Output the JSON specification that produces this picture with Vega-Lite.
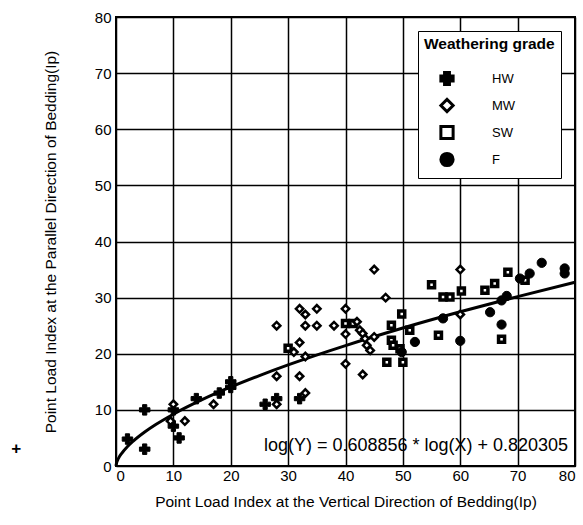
{
  "$schema": "https://vega.github.io/schema/vega-lite/v6.json",
  "width": 459,
  "height": 449,
  "autosize": "none",
  "padding": {"left": 116, "top": 17, "right": 8, "bottom": 59},
  "background": "white",
  "config": {
    "font": "Liberation Sans",
    "view": {"stroke": "black", "strokeWidth": 2},
    "axis": {
      "grid": true,
      "gridColor": "black",
      "gridWidth": 1.5,
      "gridOpacity": 1,
      "domain": false,
      "ticks": false,
      "labelFont": "Liberation Sans",
      "labelFontSize": 15,
      "labelColor": "black",
      "titleFont": "Liberation Sans",
      "titleFontSize": 15.5,
      "titleFontWeight": "normal",
      "titleColor": "black"
    }
  },
  "datasets": {
    "points": [
      {"x": 2, "y": 4.8, "grade": "HW"},
      {"x": 5, "y": 10, "grade": "HW"},
      {"x": 5, "y": 3, "grade": "HW"},
      {"x": 10, "y": 10, "grade": "HW"},
      {"x": 10, "y": 7.1, "grade": "HW"},
      {"x": 11, "y": 5, "grade": "HW"},
      {"x": 14, "y": 12, "grade": "HW"},
      {"x": 18, "y": 13, "grade": "HW"},
      {"x": 20, "y": 15, "grade": "HW"},
      {"x": 20, "y": 14, "grade": "HW"},
      {"x": 26, "y": 11, "grade": "HW"},
      {"x": 28, "y": 12, "grade": "HW"},
      {"x": 32, "y": 12, "grade": "HW"},
      {"x": 9.5, "y": 8, "grade": "MW"},
      {"x": 10, "y": 11, "grade": "MW"},
      {"x": 12, "y": 8, "grade": "MW"},
      {"x": 17, "y": 11, "grade": "MW"},
      {"x": 28, "y": 25, "grade": "MW"},
      {"x": 28, "y": 16, "grade": "MW"},
      {"x": 28, "y": 11, "grade": "MW"},
      {"x": 31, "y": 20.3, "grade": "MW"},
      {"x": 32, "y": 28, "grade": "MW"},
      {"x": 33, "y": 27, "grade": "MW"},
      {"x": 32, "y": 22, "grade": "MW"},
      {"x": 32, "y": 16, "grade": "MW"},
      {"x": 33, "y": 13, "grade": "MW"},
      {"x": 33, "y": 19.5, "grade": "MW"},
      {"x": 33, "y": 25, "grade": "MW"},
      {"x": 35, "y": 28, "grade": "MW"},
      {"x": 35, "y": 25, "grade": "MW"},
      {"x": 38, "y": 25, "grade": "MW"},
      {"x": 40, "y": 28, "grade": "MW"},
      {"x": 40, "y": 23.5, "grade": "MW"},
      {"x": 40, "y": 18.2, "grade": "MW"},
      {"x": 42, "y": 25.7, "grade": "MW"},
      {"x": 42.5, "y": 24.2, "grade": "MW"},
      {"x": 43, "y": 23.6, "grade": "MW"},
      {"x": 43.4, "y": 22.7, "grade": "MW"},
      {"x": 43.7, "y": 21.5, "grade": "MW"},
      {"x": 44.3, "y": 20.6, "grade": "MW"},
      {"x": 43, "y": 16.3, "grade": "MW"},
      {"x": 45, "y": 23, "grade": "MW"},
      {"x": 45, "y": 35, "grade": "MW"},
      {"x": 47, "y": 30, "grade": "MW"},
      {"x": 60, "y": 35, "grade": "MW"},
      {"x": 60, "y": 27, "grade": "MW"},
      {"x": 30, "y": 21, "grade": "SW"},
      {"x": 40, "y": 25.4, "grade": "SW"},
      {"x": 41.3, "y": 25.4, "grade": "SW"},
      {"x": 48, "y": 25.1, "grade": "SW"},
      {"x": 48, "y": 22.4, "grade": "SW"},
      {"x": 48.3, "y": 21.5, "grade": "SW"},
      {"x": 49.5, "y": 20.9, "grade": "SW"},
      {"x": 47.2, "y": 18.5, "grade": "SW"},
      {"x": 50, "y": 18.5, "grade": "SW"},
      {"x": 49.8, "y": 27.1, "grade": "SW"},
      {"x": 51.2, "y": 24.2, "grade": "SW"},
      {"x": 55, "y": 32.3, "grade": "SW"},
      {"x": 56.2, "y": 23.3, "grade": "SW"},
      {"x": 57, "y": 30.1, "grade": "SW"},
      {"x": 58.2, "y": 30.1, "grade": "SW"},
      {"x": 60.2, "y": 31.2, "grade": "SW"},
      {"x": 64.3, "y": 31.3, "grade": "SW"},
      {"x": 66, "y": 32.5, "grade": "SW"},
      {"x": 67.2, "y": 22.6, "grade": "SW"},
      {"x": 68.3, "y": 34.5, "grade": "SW"},
      {"x": 71.3, "y": 33.1, "grade": "SW"},
      {"x": 49.8, "y": 20.3, "grade": "F"},
      {"x": 52.1, "y": 22.1, "grade": "F"},
      {"x": 57, "y": 26.3, "grade": "F"},
      {"x": 60, "y": 22.3, "grade": "F"},
      {"x": 65.2, "y": 27.4, "grade": "F"},
      {"x": 67.2, "y": 25.2, "grade": "F"},
      {"x": 67.2, "y": 29.5, "grade": "F"},
      {"x": 68.1, "y": 30.3, "grade": "F"},
      {"x": 70.4, "y": 33.4, "grade": "F"},
      {"x": 72.1, "y": 34.3, "grade": "F"},
      {"x": 74.2, "y": 36.2, "grade": "F"},
      {"x": 78.2, "y": 35.2, "grade": "F"},
      {"x": 78.2, "y": 34.3, "grade": "F"}
    ],
    "fit": [
      {"x": 0, "y": 0},
      {"x": 0.1, "y": 0.56},
      {"x": 0.3, "y": 1.09},
      {"x": 0.5, "y": 1.49},
      {"x": 1, "y": 2.27},
      {"x": 2, "y": 3.46},
      {"x": 3, "y": 4.43},
      {"x": 5, "y": 6.05},
      {"x": 7, "y": 7.43},
      {"x": 10, "y": 9.23},
      {"x": 15, "y": 11.81},
      {"x": 20, "y": 14.08},
      {"x": 25, "y": 16.12},
      {"x": 30, "y": 18.02},
      {"x": 40, "y": 21.46},
      {"x": 50, "y": 24.59},
      {"x": 60, "y": 27.48},
      {"x": 70, "y": 30.18},
      {"x": 80, "y": 32.73}
    ]
  },
  "layer": [
    {
      "data": {"name": "fit"},
      "mark": {"type": "line", "color": "black", "strokeWidth": 3, "interpolate": "monotone"},
      "encoding": {
        "x": {
          "field": "x", "type": "quantitative",
          "scale": {"domain": [0, 80], "nice": false},
          "axis": {
            "values": [0, 10, 20, 30, 40, 50, 60, 70, 80],
            "labelPadding": 2,
            "title": "Point Load Index at the Vertical Direction of Bedding(Ip)",
            "titlePadding": 11
          }
        },
        "y": {
          "field": "y", "type": "quantitative",
          "scale": {"domain": [0, 80], "nice": false},
          "axis": {
            "values": [0, 10, 20, 30, 40, 50, 60, 70, 80],
            "labelPadding": 5,
            "title": "Point Load Index at the Parallel Direction of Bedding(Ip)",
            "titlePadding": 36
          }
        }
      }
    },
    {
      "data": {"name": "points"},
      "transform": [{"filter": "datum.grade === 'SW'"}],
      "mark": {"type": "point", "filled": false, "stroke": "black", "strokeWidth": 3.5, "size": 36, "opacity": 1},
      "encoding": {
        "x": {"field": "x", "type": "quantitative"},
        "y": {"field": "y", "type": "quantitative"},
        "fill": {
          "field": "grade", "type": "nominal",
          "scale": {"domain": ["HW", "MW", "SW", "F"], "range": ["black", "white", "white", "black"]}
        },
        "shape": {
          "field": "grade", "type": "nominal",
          "scale": {"domain": ["HW", "MW", "SW", "F"], "range": ["cross", "diamond", "square", "circle"]},
          "legend": {
            "title": "Weathering grade",
            "orient": "none",
            "legendX": 302,
            "legendY": 14,
            "padding": 6,
            "strokeColor": "black",
            "fillColor": "white",
            "titleFont": "Liberation Sans",
            "titleFontSize": 15.5,
            "titleFontWeight": "bold",
            "titleColor": "black",
            "titlePadding": 18,
            "labelFont": "Liberation Sans",
            "labelFontSize": 13,
            "labelColor": "black",
            "labelOffset": 37,
            "symbolOffset": 15,
            "symbolSize": 150,
            "symbolStrokeWidth": 3,
            "rowPadding": 1,
            "encode": {
              "symbols": {
                "update": {
                  "stroke": {"value": "black"},
                  "strokeWidth": {"value": 3},
                  "size": {"signal": "datum.value === 'SW' ? 64 : datum.value === 'MW' ? 60 : datum.value === 'HW' ? 120 : 120"}
                }
              }
            }
          }
        }
      }
    },
    {
      "data": {"name": "points"},
      "transform": [{"filter": "datum.grade === 'HW'"}],
      "mark": {"type": "point", "filled": false, "stroke": "black", "strokeWidth": 1, "size": 110, "opacity": 1},
      "encoding": {
        "x": {"field": "x", "type": "quantitative"},
        "y": {"field": "y", "type": "quantitative"},
        "fill": {"field": "grade", "type": "nominal"},
        "shape": {"field": "grade", "type": "nominal"}
      }
    },
    {
      "data": {"name": "points"},
      "transform": [{"filter": "datum.grade === 'MW'"}],
      "mark": {"type": "point", "filled": false, "stroke": "black", "strokeWidth": 2.5, "size": 55, "opacity": 1},
      "encoding": {
        "x": {"field": "x", "type": "quantitative"},
        "y": {"field": "y", "type": "quantitative"},
        "fill": {"field": "grade", "type": "nominal"},
        "shape": {"field": "grade", "type": "nominal"}
      }
    },
    {
      "data": {"name": "points"},
      "transform": [{"filter": "datum.grade === 'F'"}],
      "mark": {"type": "point", "filled": false, "stroke": "black", "strokeWidth": 1, "size": 85, "opacity": 1},
      "encoding": {
        "x": {"field": "x", "type": "quantitative"},
        "y": {"field": "y", "type": "quantitative"},
        "fill": {"field": "grade", "type": "nominal"},
        "shape": {"field": "grade", "type": "nominal"}
      }
    },
    {
      "data": {"values": [{"label": "log(Y) = 0.608856 * log(X) + 0.820305"}]},
      "mark": {"type": "text", "align": "right", "baseline": "middle", "fontSize": 18, "font": "Liberation Sans", "color": "black"},
      "encoding": {
        "text": {"field": "label"},
        "x": {"datum": 78.8},
        "y": {"datum": 3.6}
      }
    },
    {
      "data": {"values": [{"label": "+"}]},
      "mark": {"type": "text", "align": "center", "baseline": "middle", "fontSize": 17, "fontWeight": "bold", "font": "Liberation Sans", "color": "black"},
      "encoding": {
        "text": {"field": "label"},
        "x": {"datum": -17.4},
        "y": {"datum": 3.1}
      }
    }
  ]
}
